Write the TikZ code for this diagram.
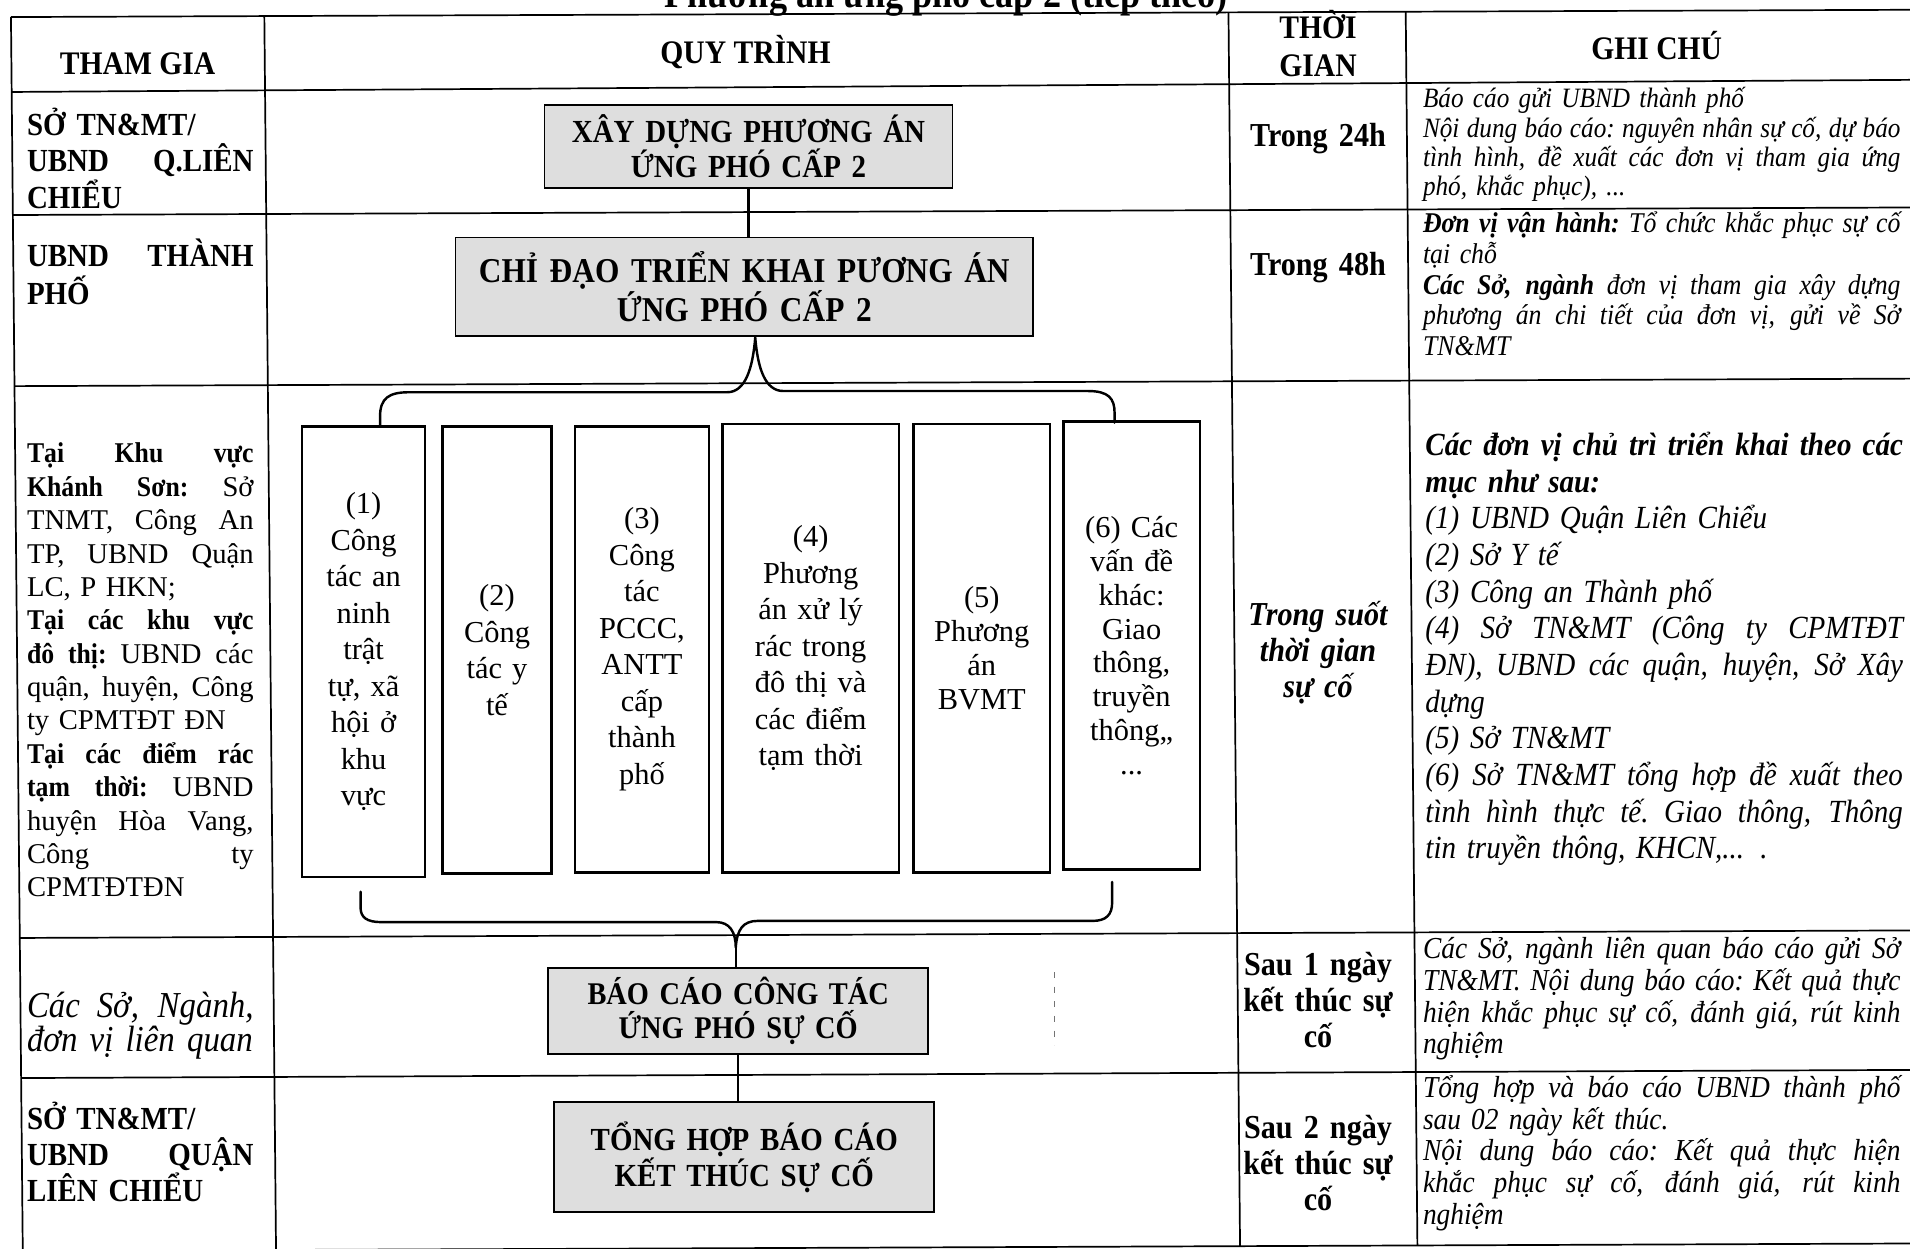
\documentclass[tikz,border=0pt]{standalone}
\usepackage{fontspec}
\setmainfont{Liberation Serif}[BoldFeatures={FakeStretch=0.9}, ItalicFeatures={FakeStretch=0.9}, BoldItalicFeatures={FakeStretch=0.9}]
\newcommand\lj[1]{\makebox[186pt][s]{\spaceskip=.25em plus 1fil\relax\xspaceskip=\spaceskip\relax #1}}
\newcommand\gj[1]{\makebox[392pt][s]{\spaceskip=.25em plus 1fil\relax\xspaceskip=\spaceskip\relax #1}}
\begin{document}
\begin{tikzpicture}[x=1pt,y=-1pt,
  grid/.style={line width=1.4pt},
  procbox/.style={draw, line width=1.5pt, fill=black!13, inner sep=0pt, align=center},
  subbox/.style={draw, line width=2.2pt, inner sep=0pt, align=center, font=\fontsize{25}{30}\selectfont},
  conn/.style={line width=2pt, line cap=round, line join=round},
  hdr/.style={font=\bfseries\fontsize{27}{31}\selectfont, align=center, inner sep=0pt},
  lcol/.style={anchor=base west, text width=186pt, align=left, inner sep=0pt},
  gcol/.style={anchor=base west, text width=392pt, align=left, inner sep=0pt},
  tcol/.style={font=\bfseries\fontsize{27.5}{29.5}\selectfont, align=center, text width=140pt, inner sep=0pt}]
\useasboundingbox (0,0) rectangle (1568,1025);
\fill[white] (0,0) rectangle (1568,1025);

% title (cut off at the top)
\node[font=\bfseries\fontsize{33}{34}\selectfont, anchor=base, inner sep=0pt] (title) at (777,6) {Phương án ứng phó cấp 2 (tiếp theo)};

% table grid (slightly skewed, as in the scan)
\draw[grid] (9,14) -- (1575,8);
\draw[grid] (9.6,75.5) -- (1575,65.5);
\draw[grid] (10.6,176.5) -- (1575,170.3);
\draw[grid] (12,317) -- (1575,310.8);
\draw[grid] (16.3,770) -- (1575,763.8);
\draw[grid] (17.4,885) -- (1575,878.3);
\draw[grid] (18.7,1027) -- (1575,1020.8);
\draw[grid] (9,14) -- (18.7,1027);
\draw[grid] (217,13.2) -- (226.6,1026.2);
\draw[grid] (1008.5,10) -- (1018,1023);
\draw[grid] (1154,9.4) -- (1163.6,1022.4);

% header
\node[hdr] (h1) at (113,52) {THAM GIA};
\node[hdr] (h2) at (612,43) {QUY TRÌNH};
\node[hdr] (h3) at (1082,36) {THỜI\\GIAN};
\node[hdr] (h4) at (1360,37) {GHI CHÚ};

% left column
\node[lcol, font=\bfseries\fontsize{26.4}{30}\selectfont] (l1) at (22,111) {SỞ\hspace{9pt}TN\&MT/\\%
\lj{UBND Q.LIÊN}\\%
CHIỂU};
\node[lcol, font=\bfseries\fontsize{26.4}{31}\selectfont] (l2) at (22,219) {\lj{UBND THÀNH}\\%
PHỐ};
\node[lcol, font=\fontsize{23.5}{27.4}\selectfont] (l3) at (22,380) {\lj{\textbf{Tại Khu vực}}\\%
\lj{\textbf{Khánh Sơn:} Sở}\\%
\lj{TNMT, Công An}\\%
\lj{TP, UBND Quận}\\%
LC, P HKN;\\%
\lj{\textbf{Tại các khu vực}}\\%
\lj{\textbf{đô thị:} UBND các}\\%
\lj{quận, huyện, Công}\\%
ty CPMTĐT ĐN\\%
\lj{\textbf{Tại các điểm rác}}\\%
\lj{\textbf{tạm thời:} UBND}\\%
\lj{huyện Hòa Vang,}\\%
\lj{Công ty}\\%
CPMTĐTĐN};
\node[lcol, font=\itshape\fontsize{30}{26}\selectfont] (l4) at (22,835) {\lj{Các Sở, Ngành,}\\%
đơn vị liên quan};
\node[lcol, font=\bfseries\fontsize{26.4}{29.5}\selectfont] (l5) at (22,927) {SỞ TN\&MT/\\%
\lj{UBND QUẬN}\\%
LIÊN CHIỂU};

% process column
\node[procbox, text width=335pt, minimum height=68pt, font=\bfseries\fontsize{26.4}{29}\selectfont] (b1) at (614.5,120) {XÂY DỰNG PHƯƠNG ÁN\\ỨNG PHÓ CẤP 2};
\node[procbox, text width=474pt, minimum height=81pt, font=\bfseries\fontsize{28.6}{31}\selectfont] (b2) at (611,235.5) {CHỈ ĐẠO TRIỂN KHAI PƯƠNG ÁN\\ỨNG PHÓ CẤP 2};

\node[subbox, text width=101pt, minimum height=370pt] (s1) at (298.5,535) {(1)\\Công\\tác an\\ninh\\trật\\tự, xã\\hội ở\\khu\\vực};
\node[subbox, text width=90pt, minimum height=367pt] (s2) at (408,533.5) {(2)\\Công\\tác y\\tế};
\node[subbox, text width=110pt, minimum height=366pt] (s3) at (527,533) {(3)\\Công\\tác\\PCCC,\\ANTT\\cấp\\thành\\phố};
\node[subbox, text width=145pt, minimum height=368pt] (s4) at (665.5,532) {(4)\\Phương\\án xử lý\\rác trong\\đô thị và\\các điểm\\tạm thời};
\node[subbox, text width=112pt, minimum height=368pt, font=\fontsize{25}{28}\selectfont] (s5) at (806,532) {(5)\\Phương\\án\\BVMT};
\node[subbox, text width=112pt, minimum height=368pt, font=\fontsize{25}{27.8}\selectfont] (s6) at (929,530) {(6) Các\\vấn đề\\khác:\\Giao\\thông,\\truyền\\thông,,\\...};

\node[procbox, text width=312pt, minimum height=70pt, font=\bfseries\fontsize{25.9}{28}\selectfont] (b3) at (606,830) {BÁO CÁO CÔNG TÁC\\ỨNG PHÓ SỰ CỐ};
\node[procbox, text width=312pt, minimum height=90pt, font=\bfseries\fontsize{26.4}{29}\selectfont] (b4) at (611,950) {TỔNG HỢP BÁO CÁO\\KẾT THÚC SỰ CỐ};

% connectors
\draw[conn] (b1.south) -- (b1.south |- b2.north);
\coordinate (ttip) at (620,277);
\coordinate (tl) at (312,350);
\coordinate (tr) at (915,347);
\draw[conn] (tl) -- (312,342) .. controls (312,327) and (319,322) .. (336,322) -- (597,322) .. controls (612,322) and (618,302) .. (ttip)
  .. controls (622,302) and (628,321) .. (643,321) -- (893,321) .. controls (910,321) and (915,327) .. (915,339) -- (tr);
\coordinate (bl) at (296,732);
\coordinate (br) at (913,724);
\coordinate (btip) at (604,778);
\draw[conn] (bl) -- (296,745) .. controls (296,753) and (301,757) .. (313,757) -- (588,757) .. controls (599,757) and (604,765) .. (btip)
  .. controls (605,763) and (610,756) .. (622,756) -- (897,756) .. controls (908,756) and (913,751) .. (913,741) -- (br);
\draw[conn] (btip) -- (btip |- b3.north);
\draw[conn] (b3.south) -- (b3.south |- b4.north);
\draw[black!55, line width=0.8pt, dash pattern=on 5pt off 7pt] (866,798) -- (866,858);

% time column
\node[tcol] (t1) at (1082,114) {Trong 24h};
\node[tcol] (t2) at (1082,220) {Trong 48h};
\node[tcol, font=\bfseries\itshape\fontsize{27.5}{29.5}\selectfont] (t3) at (1082,536) {Trong suốt\\thời gian\\sự cố};
\node[tcol] (t4) at (1082,821) {Sau 1 ngày\\kết thúc sự\\cố};
\node[tcol] (t5) at (1082,955) {Sau 2 ngày\\kết thúc sự\\cố};

% notes column
\node[gcol, font=\itshape\fontsize{23}{24}\selectfont] (g1) at (1168,88.5) {Báo cáo gửi UBND thành phố\\%
\gj{Nội dung báo cáo: nguyên nhân sự cố, dự báo}\\%
\gj{tình hình, đề xuất các đơn vị tham gia ứng}\\%
phó, khắc phục), ...};
\node[gcol, font=\itshape\fontsize{23.5}{25.2}\selectfont] (g2) at (1168,191) {\gj{\textbf{Đơn vị vận hành:} Tổ chức khắc phục sự cố}\\%
tại chỗ\\%
\gj{\textbf{Các Sở, ngành} đơn vị tham gia xây dựng}\\%
\gj{phương án chi tiết của đơn vị, gửi về Sở}\\%
TN\&MT};
\node[gcol, font=\itshape\fontsize{26.5}{30.1}\selectfont] (g3) at (1170,374) {\gj{\textbf{Các đơn vị chủ trì triển khai theo các}}\\%
\textbf{mục như sau:}\\%
(1) UBND Quận Liên Chiểu\\%
(2) Sở Y tế\\%
(3) Công an Thành phố\\%
\gj{(4) Sở TN\&MT (Công ty CPMTĐT}\\%
\gj{ĐN), UBND các quận, huyện, Sở Xây}\\%
dựng\\%
(5) Sở TN\&MT\\%
\gj{(6) Sở TN\&MT tổng hợp đề xuất theo}\\%
\gj{tình hình thực tế. Giao thông, Thông}\\%
tin truyền thông, KHCN,... .};
\node[gcol, font=\itshape\fontsize{25}{26}\selectfont] (g4) at (1168,787) {\gj{Các Sở, ngành liên quan báo cáo gửi Sở}\\%
\gj{TN\&MT. Nội dung báo cáo: Kết quả thực}\\%
\gj{hiện khắc phục sự cố, đánh giá, rút kinh}\\%
nghiệm};
\node[gcol, font=\itshape\fontsize{25}{26}\selectfont] (g5) at (1168,901) {\gj{Tổng hợp và báo cáo UBND thành phố}\\%
sau 02 ngày kết thúc.\\%
\gj{Nội dung báo cáo: Kết quả thực hiện}\\%
\gj{khắc phục sự cố, đánh giá, rút kinh}\\%
nghiệm};
\end{tikzpicture}
\end{document}
